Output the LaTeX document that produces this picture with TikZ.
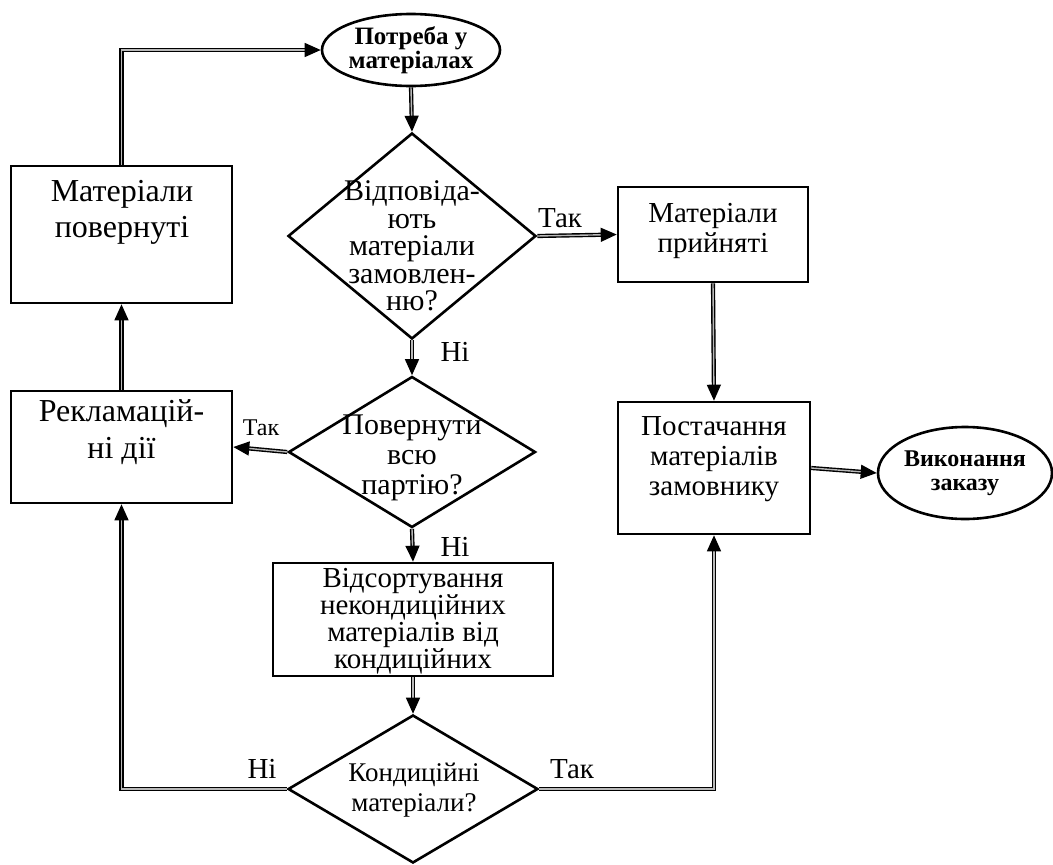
\documentclass[tikz,border=0pt]{standalone}
\usepackage{fontspec}
\setmainfont{Liberation Serif}
\usetikzlibrary{shapes.geometric,arrows.meta}

\newcommand{\fs}[2]{\fontsize{#1}{#2}\selectfont}

\tikzset{
  shape line/.style={draw=black, line width=2.6pt, line join=miter},
  stepbox/.style={shape line, rectangle, inner sep=0pt},
  decision/.style={shape line, diamond, inner sep=0pt},
  terminal/.style={shape line, ellipse, inner sep=0pt, align=center, font=\bfseries\fs{25}{21}},
  txt/.style={align=center, inner sep=0pt},
  lbl/.style={inner sep=0pt, anchor=base, font=\fs{29}{29}},
  conn/.style={draw=black, line width=1.4pt, double=gray!55, double distance=1.4pt,
    line join=miter, -{Triangle[length=16pt,width=14pt,fill=black]}},
}

\begin{document}
\begin{tikzpicture}[x=1pt,y=-1pt]
\useasboundingbox (0,0) rectangle (1053,865);

% terminals
\node[terminal, minimum width=178, minimum height=72] (need) at (411,50) {Потреба у\\матеріалах};
\node[terminal, minimum width=174, minimum height=92, font=\bfseries\fs{24}{24}] (done) at (965,473) {Виконання\\заказу};

% decisions
\node[decision, minimum width=248, minimum height=206] (d1) at (412,236) {};
\node[decision, minimum width=247, minimum height=151] (d2) at (412,452) {};
\node[decision, minimum width=250, minimum height=148] (d3) at (413,789) {};

\node[txt, font=\fs{30}{27.5}] (d1t) at (412,246) {Відповіда-\\ють\\матеріали\\замовлен-\\ню?};
\node[txt, font=\fs{30}{30}] (d2t) at (412,458) {Повернути\\всю\\партію?};
\node[txt, font=\fs{27}{30}] (d3t) at (414,790) {Кондиційні\\матеріали?};

% process boxes
\node[stepbox, minimum width=221, minimum height=137] (ret) at (121.5,234.5) {};
\node[stepbox, minimum width=221, minimum height=112] (rec) at (121.5,447) {};
\node[stepbox, minimum width=190, minimum height=95] (acc) at (713,234.5) {};
\node[stepbox, minimum width=192, minimum height=132] (sup) at (714,468) {};
\node[stepbox, minimum width=280, minimum height=113] (sort) at (413,619.5) {};

\node[txt, font=\fs{32}{36}] (rett) at (122,212) {Матеріали\\повернуті};
\node[txt, font=\fs{32}{37}] (rect) at (121.5,432) {Рекламацій-\\ні дії};
\node[txt, font=\fs{29}{30}] (acct) at (713,231) {Матеріали\\прийняті};
\node[txt, font=\fs{29}{30}] (supt) at (714,459) {Постачання\\матеріалів\\замовнику};
\node[txt, font=\fs{29}{27}] (sortt) at (413,621) {Відсортування\\некондиційних\\матеріалів від\\кондиційних};

% connectors
\draw[conn] (ret.north) |- (need.west);
\draw[conn] (need.south) -- (d1.north);
\draw[conn] (d1.east) -- (acc.west);
\draw[conn] (acc.south) -- (sup.north);
\draw[conn] (sup.east) -- (done.west);
\draw[conn] (d1.south) -- (d2.north);
\draw[conn] (d2.west) -- (rec.east);
\draw[conn] (rec.north) -- (ret.south);
\draw[conn] (d2.south) -- (sort.north);
\draw[conn] (sort.south) -- (d3.north);
\draw[conn] (d3.west) -| (rec.south);
\draw[conn] (d3.east) -| (sup.south);

% branch labels
\node[lbl] (l1) at (560,227) {Так};
\node[lbl] (l2) at (455,361) {Ні};
\node[lbl, font=\fs{24}{24}] (l3) at (261,435) {Так};
\node[lbl] (l4) at (455,556) {Ні};
\node[lbl] (l5) at (262,778) {Ні};
\node[lbl] (l6) at (572,778) {Так};
\end{tikzpicture}
\end{document}
